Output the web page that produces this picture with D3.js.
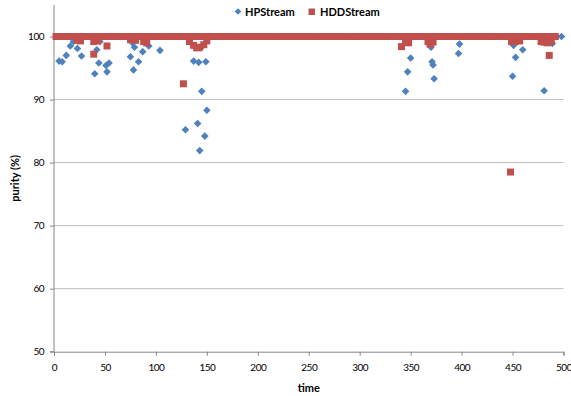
<!DOCTYPE html>
<html>
<head>
<meta charset="utf-8">
<script src="https://cdn.jsdelivr.net/npm/d3@7/dist/d3.min.js"></script>
<style>
  body { margin: 0; background: #fff; }
  svg { display: block; font-family: Lato, "Liberation Sans", sans-serif; }
</style>
</head>
<body>
<div id="chart"></div>
<script>

// HPStream: time / purity (%)
var hpTime = [3, 13, 23, 33, 43, 53, 63, 73, 83, 93, 103, 113, 123, 133, 143, 153, 163, 173, 183, 193,
  203, 213, 223, 233, 243, 253, 263, 273, 283, 293, 303, 313, 323, 333, 343, 353, 363, 373, 383, 393,
  403, 413, 423, 433, 443, 453, 463, 473, 483, 493, 498,
  5, 8, 12, 16, 19, 23, 27, 40, 42, 44, 45, 51, 52, 54, 75, 77, 78, 79, 83, 87, 93, 104,
  129, 137, 141, 142, 143, 144, 145, 148, 149, 150,
  345, 347, 350, 370, 371, 372, 373, 397, 398, 450, 451, 453, 460, 481, 489];
var hpPurity = [100, 100, 100, 100, 100, 100, 100, 100, 100, 100, 100, 100, 100, 100, 100, 100, 100, 100, 100, 100,
  100, 100, 100, 100, 100, 100, 100, 100, 100, 100, 100, 100, 100, 100, 100, 100, 100, 100, 100, 100,
  100, 100, 100, 100, 100, 100, 100, 100, 100, 100, 100,
  96.1, 96.0, 97.0, 98.5, 99.2, 98.1, 96.9, 94.1, 97.9, 95.8, 99.2, 95.4, 94.4, 95.8, 96.8, 99.0, 94.7, 98.3, 96.0, 97.6, 98.5, 97.8,
  85.2, 96.1, 86.2, 95.9, 81.9, 98.2, 91.3, 84.2, 96.0, 88.3,
  91.3, 94.4, 96.6, 98.3, 96.0, 95.5, 93.3, 97.3, 98.8, 93.7, 98.6, 96.7, 97.9, 91.4, 98.9];

// HDDStream: time / purity (%)
var hddTime = [2, 7, 12, 17, 22, 27, 32, 37, 42, 47, 52, 57, 62, 67, 72, 77, 82, 87, 92, 97,
  102, 107, 112, 117, 122, 127, 132, 137, 142, 147, 152, 157, 162, 167, 172, 177, 182, 187, 192, 197,
  202, 207, 212, 217, 222, 227, 232, 237, 242, 247, 252, 257, 262, 267, 272, 277, 282, 287, 292, 297,
  302, 307, 312, 317, 322, 327, 332, 337, 342, 347, 352, 357, 362, 367, 372, 377, 382, 387, 392, 397,
  402, 407, 412, 417, 422, 427, 432, 437, 442, 447, 452, 457, 462, 467, 472, 477, 482, 487, 492,
  23, 26, 39, 39, 43, 52, 75, 80, 88, 91, 127, 133, 137, 140, 143, 147, 150,
  341, 345, 348, 367, 369, 372, 448, 449, 453, 457, 478, 481, 484, 486, 488];
var hddPurity = [100, 100, 100, 100, 100, 100, 100, 100, 100, 100, 100, 100, 100, 100, 100, 100, 100, 100, 100, 100,
  100, 100, 100, 100, 100, 100, 100, 100, 100, 100, 100, 100, 100, 100, 100, 100, 100, 100, 100, 100,
  100, 100, 100, 100, 100, 100, 100, 100, 100, 100, 100, 100, 100, 100, 100, 100, 100, 100, 100, 100,
  100, 100, 100, 100, 100, 100, 100, 100, 100, 100, 100, 100, 100, 100, 100, 100, 100, 100, 100, 100,
  100, 100, 100, 100, 100, 100, 100, 100, 100, 100, 100, 100, 100, 100, 100, 100, 100, 100, 100,
  99.4, 99.3, 97.2, 99.2, 99.3, 98.5, 99.5, 99.4, 99.2, 99.0, 92.5, 99.2, 98.6, 98.2, 98.3, 98.7, 99.3,
  98.4, 99.2, 99.0, 99.2, 98.8, 99.1, 78.5, 99.2, 99.2, 99.3, 99.2, 99.1, 99.0, 97.0, 99.2];

var xTicks = [0, 50, 100, 150, 200, 250, 300, 350, 400, 450, 500];
var yTicks = [50, 60, 70, 80, 90, 100];

var width = 571, height = 396;
// plot box (top/left are window properties, so keep these names distinct)
var plotL = 54, plotR = 563.5, plotT = 5, plotB = 351.7;

var svg = d3.select('#chart').append('svg').attr('width', width).attr('height', height);

var x = d3.scaleLinear().domain([0, 500]).range([plotL, plotR]);
var y = d3.scaleLinear().domain([50, 105]).range([plotB, plotT]);

// gridlines
svg.append('g')
  .selectAll('line')
  .data(yTicks.slice(1))
  .enter().append('line')
  .attr('x1', plotL).attr('x2', plotR)
  .attr('y1', function (d) { return y(d); })
  .attr('y2', function (d) { return y(d); })
  .attr('stroke', '#bfbfbf').attr('stroke-width', 1);

// axes
var yAxis = svg.append('g')
  .attr('transform', 'translate(' + plotL + ',0)')
  .call(d3.axisLeft(y).tickValues(yTicks).tickSize(4).tickPadding(6));
var xAxis = svg.append('g')
  .attr('transform', 'translate(0,' + plotB + ')')
  .call(d3.axisBottom(x).tickValues(xTicks).tickSize(4).tickPadding(8));

[yAxis, xAxis].forEach(function (g) {
  g.select('.domain').attr('stroke', '#868686');
  g.selectAll('.tick line').attr('stroke', '#868686');
  g.selectAll('.tick text').attr('fill', '#000')
    .style('font-size', '10px').style('letter-spacing', '-0.5px')
    .style('font-family', 'Lato, sans-serif');
});
// y axis runs up to the top of the plot
yAxis.select('.domain').attr('d', 'M-4,' + y(50) + 'H0V' + y(105));

var diamond = {
  draw: function (ctx, size) {
    var r = Math.sqrt(size / 2);
    ctx.moveTo(0, -r); ctx.lineTo(r, 0); ctx.lineTo(0, r); ctx.lineTo(-r, 0); ctx.closePath();
  }
};

// HPStream first, HDDStream drawn on top
svg.append('g')
  .selectAll('path')
  .data(d3.zip(hpTime, hpPurity))
  .enter().append('path')
  .attr('d', d3.symbol().type(diamond).size(29))
  .attr('transform', function (d) { return 'translate(' + x(d[0]) + ',' + y(d[1]) + ')'; })
  .attr('fill', '#4f81bd');

svg.append('g')
  .selectAll('path')
  .data(d3.zip(hddTime, hddPurity))
  .enter().append('path')
  .attr('d', d3.symbol().type(d3.symbolSquare).size(49))
  .attr('transform', function (d) { return 'translate(' + x(d[0]) + ',' + y(d[1]) + ')'; })
  .attr('fill', '#c0504d');

// legend
var legend = svg.append('g').style('font-size', '11px').style('font-weight', 'bold');
legend.append('path')
  .attr('d', d3.symbol().type(diamond).size(22))
  .attr('transform', 'translate(238,11.5)')
  .attr('fill', '#4f81bd');
legend.append('text').attr('x', 245).attr('y', 15.5).text('HPStream');
legend.append('rect').attr('x', 308.5).attr('y', 8.5).attr('width', 6.5).attr('height', 6.5).attr('fill', '#c0504d');
legend.append('text').attr('x', 320).attr('y', 15.5).text('HDDStream');

// axis titles
svg.append('text')
  .attr('x', (plotL + plotR) / 2).attr('y', 392)
  .attr('text-anchor', 'middle')
  .style('font-size', '11px').style('font-weight', 'bold')
  .text('time');
svg.append('text')
  .attr('transform', 'translate(19,' + (plotT + plotB) / 2 + ') rotate(-90)')
  .attr('text-anchor', 'middle')
  .style('font-size', '11px').style('font-weight', 'bold')
  .text('purity (%)');

</script>
</body>
</html>
